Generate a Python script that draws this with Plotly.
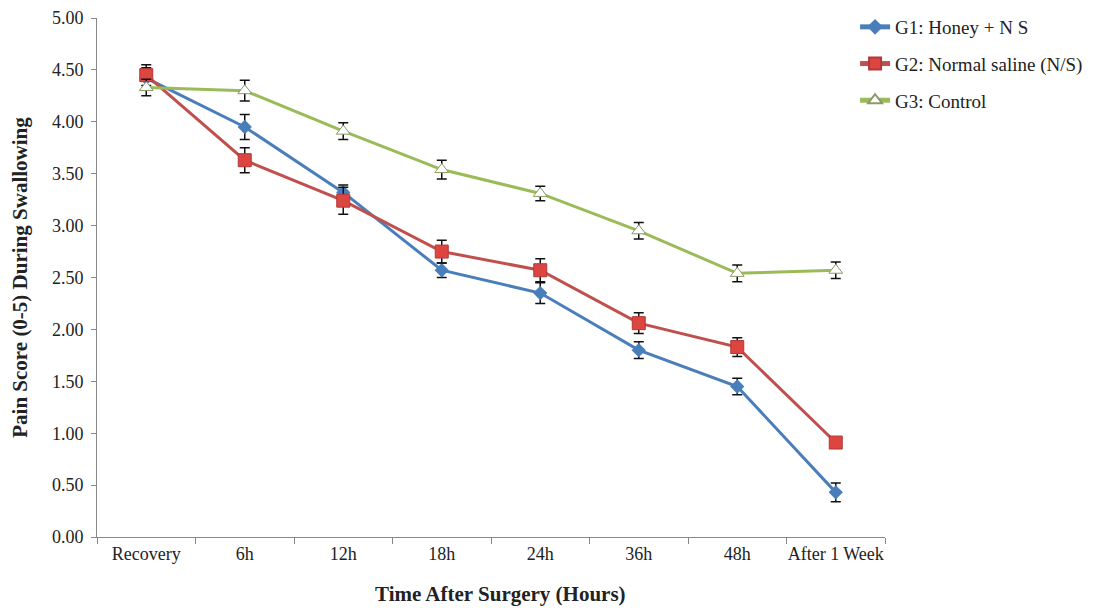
import plotly.graph_objects as go

categories = ["Recovery", "6h", "12h", "18h", "24h", "36h", "48h", "After 1 Week"]
g1_vals = [4.42, 3.95, 3.32, 2.57, 2.35, 1.80, 1.45, 0.43]
g1_err = [0.10, 0.12, 0.07, 0.07, 0.10, 0.08, 0.08, 0.09]
g2_vals = [4.45, 3.63, 3.24, 2.75, 2.57, 2.06, 1.83, 0.91]
g2_err = [0.10, 0.12, 0.13, 0.11, 0.11, 0.10, 0.09, 0.0]
g3_vals = [4.33, 4.30, 3.91, 3.54, 3.31, 2.95, 2.54, 2.57]
g3_err = [0.08, 0.10, 0.08, 0.09, 0.07, 0.08, 0.08, 0.08]
names = ["G1: Honey + N S", "G2: Normal saline (N/S)", "G3: Control"]
x_title = "Time After Surgery (Hours)"
y_title = "Pain Score (0-5) During Swallowing"

FONT = "Liberation Serif"

fig = go.Figure()
err_style = dict(type="data", visible=True, color="#111111", thickness=1.5, width=5)

fig.add_trace(go.Scatter(
    x=categories, y=g1_vals, name=names[0], mode="lines+markers", legendgroup="g1",
    line=dict(color="#4A7EBB", width=3),
    marker=dict(symbol="diamond", size=11, color="#4A7EBB"),
    error_y=dict(array=g1_err, **err_style),
))
fig.add_trace(go.Scatter(
    x=categories, y=g2_vals, name=names[1], mode="lines+markers", legendgroup="g2",
    line=dict(color="#C0504D", width=3),
    marker=dict(symbol="square", size=13, color="#DC4540", line=dict(color="#B03A36", width=1)),
    error_y=dict(array=g2_err, **err_style),
))
fig.add_trace(go.Scatter(
    x=categories, y=g3_vals, name=names[2], mode="lines+markers", legendgroup="g3",
    line=dict(color="#9BBB59", width=3),
    marker=dict(symbol="triangle-up", size=12, color="white", line=dict(color="#8A9A6A", width=1)),
    error_y=dict(array=g3_err, **err_style),
))

fig.update_layout(
    width=1102, height=608,
    margin=dict(l=89, r=225, t=10, b=79, autoexpand=False),
    paper_bgcolor="white", plot_bgcolor="white",
    font=dict(family=FONT, size=18, color="#222222"),
    showlegend=True,
    legend=dict(x=0.962, y=1.0, xanchor="left", yanchor="top", yref="container",
                bgcolor="rgba(0,0,0,0)",
                font=dict(family=FONT, size=19, color="#222222"),
                tracegroupgap=9, itemsizing="constant"),
    xaxis=dict(
        type="category", showline=True, linecolor="#888888", linewidth=1,
        ticks="outside", tickson="boundaries", ticklen=6, tickcolor="#888888",
        showgrid=False, zeroline=False, range=[-0.5, 7.5], tickangle=0,
        automargin=False,
        tickfont=dict(family=FONT, size=18, color="#222222"),
    ),
    yaxis=dict(
        range=[0, 5], dtick=0.5, tickformat=".2f",
        showline=True, linecolor="#888888", linewidth=1,
        ticks="outside", ticklen=5, tickcolor="#888888", ticklabelstandoff=4,
        ticklabeloverflow="allow",
        showgrid=False, zeroline=False, automargin=False,
        tickfont=dict(family=FONT, size=18, color="#222222"),
        title=dict(text="<b>" + y_title + "</b>", font=dict(family=FONT, size=21), standoff=20),
    ),
    annotations=[dict(
        text="<b>" + x_title + "</b>", xref="paper", yref="paper",
        x=0.512, y=-0.11, xanchor="center", yanchor="middle", showarrow=False,
        font=dict(family=FONT, size=21, color="#222222"),
    )],
)

fig.write_html("out.html")
